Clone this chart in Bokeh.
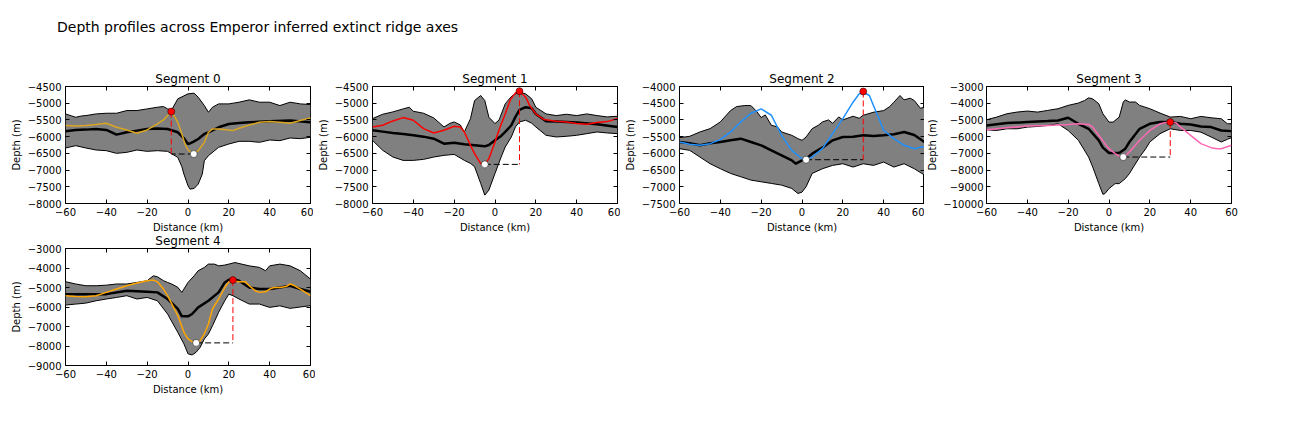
from bokeh.plotting import figure
from bokeh.layouts import column, row
from bokeh.models import Div, LinearAxis, Range1d, FixedTicker, CustomJSTickFormatter
from bokeh.embed import file_html
from bokeh.resources import INLINE

FONT = "DejaVu Sans"

SUPTITLE = "Depth profiles across Emperor inferred extinct ridge axes"
segment_names = ["Segment 0", "Segment 1", "Segment 2", "Segment 3", "Segment 4"]
profile_colors = ["#DAA520", "#FF0000", "#1E90FF", "#FF69B4", "#FFA500"]
y_limits = [(-8000, -4500), (-8000, -4500), (-7500, -4000), (-10000, -3000), (-9000, -3000)]
y_tick_step = [500, 500, 500, 1000, 1000]
x_ticks = [-60, -40, -20, 0, 20, 40, 60]

# ---------- upper envelope ----------
upper_km = [
    [-60, -57, -55, -52, -50, -45, -40, -35, -30, -25, -20, -15, -12, -10, -8, -5, -2, 0, 3, 5, 8, 10, 12, 15, 20, 25, 30, 35, 40, 45, 50, 55, 60],
    [-60, -55, -50, -45, -42, -40, -35, -30, -25, -22, -20, -17, -15, -12, -10, -7, -5, -3, 0, 2, 5, 8, 10, 12, 15, 18, 20, 25, 30, 35, 40, 45, 50, 55, 60],
    [-60, -55, -50, -45, -40, -35, -32, -28, -25, -22, -20, -18, -15, -12, -10, -5, -2, 0, 2, 5, 8, 10, 13, 15, 18, 20, 25, 28, 30, 35, 40, 43, 45, 48, 50, 53, 55, 58, 60],
    [-60, -55, -50, -45, -40, -35, -30, -25, -20, -15, -12, -10, -8, -5, -3, 0, 2, 5, 7, 8, 10, 13, 15, 20, 25, 30, 35, 40, 45, 50, 55, 58, 60],
    [-60, -55, -50, -45, -40, -35, -30, -25, -20, -17, -15, -12, -10, -8, -5, -3, -2, 0, 3, 5, 8, 10, 13, 15, 18, 20, 23, 25, 30, 35, 38, 40, 45, 50, 55, 60],
]
upper_m = [
    [-5320, -5380, -5420, -5380, -5370, -5320, -5300, -5300, -5220, -5220, -5170, -5120, -5100, -5170, -5200, -4870, -4780, -4720, -4700, -4820, -5070, -5270, -5120, -5020, -5020, -4970, -4900, -4970, -4970, -5070, -4970, -5020, -5040],
    [-5460, -5330, -5260, -5170, -5120, -5240, -5300, -5440, -5710, -5600, -5560, -5650, -5860, -5460, -4920, -4770, -4920, -5420, -5610, -5500, -5020, -4800, -4720, -4670, -4720, -4870, -5120, -5320, -5370, -5330, -5370, -5320, -5370, -5410, -5390],
    [-5530, -5490, -5360, -5260, -5060, -4720, -4600, -4570, -4570, -4760, -4930, -4850, -5160, -5210, -5360, -5460, -5560, -5610, -5510, -5260, -5160, -5060, -5000, -5100, -4910, -5000, -4890, -4950, -4860, -4770, -4720, -4600, -4470, -4270, -4400, -4350, -4420, -4650, -4620],
    [-4990, -4830, -4630, -4530, -4470, -4530, -4430, -4330, -4130, -3990, -3840, -3680, -3740, -4030, -4630, -5130, -5130, -4830, -3930, -3800, -3930, -3930, -4130, -4330, -4590, -4830, -4790, -4930, -4790, -4870, -4930, -5230, -5230],
    [-4700, -4820, -4910, -4910, -4880, -4820, -4820, -4740, -4650, -4400, -4450, -4650, -4740, -4820, -4990, -5250, -5080, -4740, -4400, -4140, -3970, -3800, -3800, -3890, -3850, -3800, -3720, -3770, -3890, -3970, -4140, -3890, -3800, -3890, -4140, -4570],
]

# ---------- lower envelope ----------
lower_km = [
    [-60, -55, -50, -45, -40, -35, -30, -25, -20, -15, -10, -5, -3, -2, 0, 1, 3, 5, 7, 8, 10, 15, 20, 25, 30, 35, 40, 45, 50, 55, 60],
    [-60, -55, -50, -45, -40, -35, -30, -25, -20, -15, -12, -10, -7, -5, -3, 0, 3, 5, 8, 10, 12, 15, 18, 20, 25, 30, 35, 40, 45, 50, 55, 60],
    [-60, -55, -50, -45, -40, -35, -30, -25, -20, -15, -10, -5, -2, 0, 2, 5, 10, 15, 20, 25, 30, 35, 40, 45, 50, 55, 60],
    [-60, -55, -50, -45, -40, -35, -30, -25, -20, -15, -10, -8, -5, -3, -2, 0, 3, 5, 8, 10, 12, 15, 18, 20, 25, 30, 35, 40, 45, 50, 55, 58, 60],
    [-60, -55, -50, -45, -40, -35, -30, -25, -20, -15, -10, -5, -2, 0, 2, 4, 6, 8, 10, 12, 15, 18, 20, 22, 25, 30, 35, 40, 45, 50, 55, 60],
]
lower_m = [
    [-6340, -6270, -6340, -6400, -6420, -6500, -6470, -6400, -6440, -6420, -6440, -6620, -6900, -7120, -7470, -7570, -7550, -7420, -7120, -6720, -6570, -6320, -6220, -6140, -6140, -6170, -6100, -6120, -6040, -6060, -6020],
    [-6110, -6410, -6610, -6710, -6710, -6680, -6610, -6560, -6530, -6710, -6800, -6900, -7400, -7750, -7600, -7100, -6610, -6310, -6010, -5710, -5560, -5510, -5600, -5710, -5960, -6010, -5990, -5960, -5910, -5860, -5890, -5910],
    [-5860, -5910, -6110, -6310, -6460, -6600, -6700, -6800, -6850, -6900, -6950, -7050, -7200, -7160, -7000, -6600, -6460, -6360, -6310, -6410, -6310, -6360, -6260, -6410, -6310, -6460, -6650],
    [-5590, -5630, -5530, -5530, -5430, -5390, -5330, -5230, -5630, -6220, -7220, -7810, -8810, -9450, -9410, -9110, -8810, -8810, -8510, -8210, -7810, -7220, -6720, -6320, -5820, -5530, -5630, -5630, -5730, -6020, -6320, -6160, -6060],
    [-5900, -5850, -5800, -5680, -5590, -5510, -5420, -5590, -5510, -5680, -6360, -7300, -7890, -8400, -8460, -8320, -8060, -7640, -7380, -6960, -6270, -5680, -5340, -5420, -5590, -5850, -5850, -6020, -5940, -6070, -6000, -5930],
]

# ---------- mean profile ----------
mean_km = [
    [-60, -55, -50, -45, -40, -35, -30, -25, -20, -15, -10, -5, -2, 0, 1, 3, 5, 8, 10, 15, 20, 25, 30, 40, 50, 60],
    [-60, -55, -50, -45, -40, -35, -30, -25, -20, -15, -10, -5, -3, 0, 3, 5, 8, 10, 12, 15, 18, 20, 25, 30, 40, 50, 60],
    [-60, -55, -50, -45, -40, -35, -30, -25, -20, -15, -10, -5, -3, 0, 2, 5, 10, 15, 20, 25, 30, 35, 40, 45, 50, 55, 60],
    [-60, -50, -40, -30, -25, -20, -15, -10, -5, -3, 0, 5, 8, 10, 15, 20, 25, 30, 35, 40, 45, 50, 55, 60],
    [-60, -50, -40, -30, -20, -15, -10, -5, -3, 0, 2, 5, 10, 15, 18, 20, 22, 25, 30, 35, 40, 45, 50, 55, 60],
]
mean_m = [
    [-5840, -5800, -5790, -5770, -5800, -5940, -5870, -5820, -5770, -5760, -5770, -5870, -6050, -6220, -6200, -6140, -6070, -5920, -5870, -5720, -5620, -5590, -5570, -5540, -5520, -5570],
    [-5810, -5850, -5890, -5920, -5960, -6000, -6060, -6210, -6180, -6230, -6260, -6290, -6250, -6110, -5980, -5860, -5660, -5410, -5200, -5120, -5150, -5320, -5540, -5550, -5580, -5630, -5710],
    [-5660, -5700, -5760, -5700, -5660, -5610, -5560, -5660, -5760, -5910, -6060, -6210, -6310, -6210, -6170, -6010, -5830, -5610, -5510, -5500, -5460, -5480, -5460, -5430, -5360, -5450, -5660],
    [-5330, -5190, -5130, -5070, -5030, -4870, -5230, -5530, -6220, -6660, -6980, -6980, -6720, -6320, -5530, -5230, -5130, -5130, -5230, -5270, -5390, -5430, -5630, -5670],
    [-5340, -5340, -5340, -5170, -5220, -5250, -5590, -6100, -6480, -6480, -6360, -6020, -5680, -5250, -4740, -4600, -4570, -4650, -5000, -5080, -5080, -5000, -4910, -5080, -5220],
]

# ---------- segment profile ----------
prof_km = [
    [-60, -55, -50, -45, -40, -35, -30, -25, -20, -15, -12, -10, -8, -5, -3, -1.5, 0, 2.5, 5, 8, 10, 12, 15, 20, 22, 25, 30, 35, 40, 45, 50, 55, 60],
    [-60, -55, -50, -45, -40, -35, -30, -25, -20, -17, -15, -12, -10, -7, -5, -3, 0, 2.5, 5, 7.5, 10, 12, 15, 17, 20, 24, 30, 35, 40, 45, 50, 55, 60],
    [-60, -55, -50, -45, -40, -35, -30, -25, -20, -15, -10, -5, 0, 2, 5, 10, 15, 20, 25, 28, 30, 33, 35, 38, 40, 45, 50, 55, 60],
    [-60, -55, -50, -40, -30, -20, -15, -10, -8, -5, -2, 0, 3, 5, 7, 10, 15, 20, 25, 28, 30, 33, 35, 40, 45, 50, 53, 55, 60],
    [-60, -55, -50, -45, -40, -35, -30, -25, -20, -17, -15, -12, -10, -5, -2, 0, 2, 4, 6, 8, 10, 12, 15, 18, 20, 22, 25, 28, 30, 33, 35, 38, 40, 42, 45, 48, 50, 52, 55, 60],
]
prof_m = [
    [-5670, -5680, -5670, -5640, -5600, -5720, -5800, -5900, -5800, -5620, -5500, -5370, -5250, -5570, -5920, -6220, -6400, -6520, -6420, -6170, -5870, -5770, -5770, -5800, -5820, -5750, -5650, -5570, -5550, -5570, -5600, -5520, -5440],
    [-5710, -5660, -5530, -5430, -5510, -5760, -5890, -5810, -5690, -5710, -5860, -6260, -6510, -6810, -6830, -6660, -6160, -5710, -5320, -4900, -4690, -4640, -4820, -5070, -5320, -5490, -5540, -5560, -5610, -5630, -5580, -5550, -5460],
    [-5660, -5730, -5760, -5710, -5590, -5360, -5060, -4800, -4670, -4860, -5460, -5910, -6160, -6190, -6110, -5860, -5410, -4960, -4470, -4220, -4170, -4270, -4570, -5010, -5310, -5560, -5760, -5860, -5790],
    [-5590, -5530, -5470, -5370, -5330, -5270, -5230, -5270, -5430, -5920, -6420, -6720, -7020, -7160, -7220, -6920, -6220, -5630, -5230, -5150, -5130, -5190, -5430, -5920, -6420, -6660, -6720, -6720, -6520],
    [-5420, -5460, -5470, -5420, -5250, -5080, -4910, -4770, -4650, -4620, -4700, -5080, -5420, -6440, -7300, -7640, -7770, -7840, -7720, -7380, -6870, -6100, -5590, -5000, -4710, -4650, -4700, -4700, -4910, -5170, -5250, -5220, -5080, -5000, -5000, -4950, -4820, -4900, -5080, -5420],
]

# ---------- picked ridge crest (peak) and axial trough ----------
peak_km = [-8.2, 12, 30, 30, 22]
peak_m = [-5250, -4640, -4150, -5130, -4620]
trough_km = [2.8, -5, 2, 7, 4]
trough_m = [-6520, -6830, -6190, -7220, -7840]

FRAME_W, FRAME_H = 245, 117
borders_left = [65, 59, 59, 60, 65]
borders_right = [3, 3, 0, 10, 5]
label_standoff = [4, 4, 4, 3, 4]
axis_label_standoff = [3, 3, 3, 2, 3]


def minus_label(v):
    return ("\u2212" + str(abs(v))) if v < 0 else str(v)


def style_axis(ax, ticks, show_labels=True, ls=4, als=3):
    ax.ticker = FixedTicker(ticks=ticks)
    ax.axis_line_color = None
    ax.major_tick_in = 4
    ax.major_tick_out = 0
    ax.major_tick_line_color = "black"
    ax.minor_tick_in = 0
    ax.minor_tick_out = 0
    ax.major_label_text_font = FONT
    ax.major_label_text_font_size = "10px"
    ax.major_label_text_color = "black"
    ax.axis_label_text_font = FONT
    ax.axis_label_text_font_size = "10px"
    ax.axis_label_text_font_style = "normal"
    ax.axis_label_text_color = "black"
    if show_labels:
        ax.major_label_overrides = {t: minus_label(t) for t in ticks}
        ax.major_label_standoff = ls
        ax.axis_label_standoff = als
    else:
        ax.formatter = CustomJSTickFormatter(code="return ''")
        ax.major_label_standoff = 0


def make_panel(i, top, bottom):
    lo, hi = y_limits[i]
    yt = list(range(lo, hi + 1, y_tick_step[i]))
    p = figure(frame_width=FRAME_W, frame_height=FRAME_H,
               x_range=Range1d(-60, 60), y_range=Range1d(lo, hi),
               output_backend="svg", toolbar_location=None,
               min_border_left=borders_left[i], min_border_right=borders_right[i],
               min_border_top=top, min_border_bottom=bottom,
               title=segment_names[i])
    p.title.align = "center"
    p.title.text_font = FONT
    p.title.text_font_size = "12px"
    p.title.text_font_style = "normal"
    p.title.text_color = "black"
    p.title.standoff = 2
    p.title.offset = 0
    p.grid.visible = False
    p.outline_line_color = "black"
    p.outline_line_width = 1
    p.outline_line_alpha = 1
    p.background_fill_color = "white"
    p.border_fill_color = None

    style_axis(p.xaxis[0], x_ticks)
    style_axis(p.yaxis[0], yt, ls=label_standoff[i], als=axis_label_standoff[i])
    p.xaxis[0].axis_label = "Distance (km)"
    p.yaxis[0].axis_label = "Depth (m)"
    top_ax = LinearAxis()
    style_axis(top_ax, x_ticks, show_labels=False)
    p.add_layout(top_ax, "above")
    right_ax = LinearAxis()
    style_axis(right_ax, yt, show_labels=False)
    p.add_layout(right_ax, "right")

    ux, uy = upper_km[i], upper_m[i]
    lx, ly = lower_km[i], lower_m[i]
    p.patch(x=ux + lx[::-1], y=uy + ly[::-1], fill_color="#808080", line_color=None)
    p.line(ux, uy, line_color="black", line_width=1)
    p.line(lx, ly, line_color="black", line_width=1)
    p.line(mean_km[i], mean_m[i], line_color="black", line_width=2.5)
    p.line(prof_km[i], prof_m[i], line_color=profile_colors[i], line_width=1.5)
    p.line([trough_km[i], peak_km[i]], [trough_m[i], trough_m[i]],
           line_color="black", line_width=1, line_dash="6 3")
    p.line([peak_km[i], peak_km[i]], [peak_m[i], trough_m[i]],
           line_color="red", line_width=1, line_dash="6 3")
    p.scatter([peak_km[i]], [peak_m[i]], size=7, fill_color="red",
              line_color="black", line_width=0.5)
    p.scatter([trough_km[i]], [trough_m[i]], size=7, fill_color="white",
              line_color="black", line_width=0.5)
    return p


panels_row1 = [make_panel(i, 24, 26) for i in range(4)]
panel4 = make_panel(4, 20, 34)

title_div = Div(text=SUPTITLE, width=1280, height=62, margin=0,
                styles={"font-size": "14px", "font-family": FONT, "color": "black",
                        "padding-left": "57px", "padding-top": "19px",
                        "line-height": "17px"})

row2 = row(panel4, spacing=0, margin=(-7, 0, 0, 0))
layout = column(title_div, row(*panels_row1, spacing=0), row2, spacing=0)

open("out.html", "w").write(file_html(layout, INLINE))
